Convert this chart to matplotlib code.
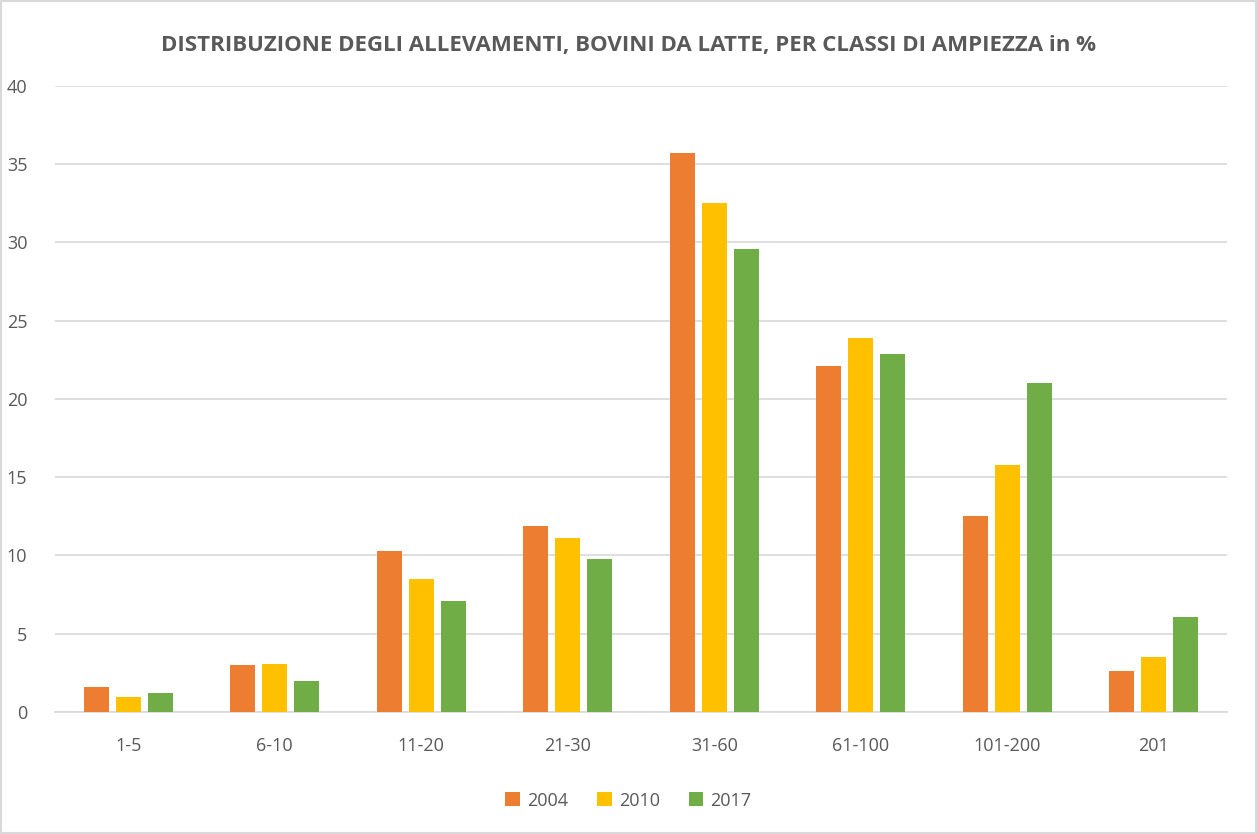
import matplotlib
matplotlib.use("Agg")
import matplotlib.pyplot as plt
import numpy as np
from matplotlib.patches import Rectangle

# classi di ampiezza e quote (%) per anno
classi = ["1-5", "6-10", "11-20", "21-30", "31-60", "61-100", "101-200", "201"]
anni = ["2004", "2010", "2017"]
v2004 = [1.6, 3.0, 10.3, 11.9, 35.7, 22.1, 12.5, 2.6]
v2010 = [0.95, 3.05, 8.5, 11.1, 32.5, 23.9, 15.8, 3.5]
v2017 = [1.2, 2.0, 7.1, 9.75, 29.6, 22.9, 21.0, 6.1]
colori = ["#ED7D31", "#FFC000", "#70AD47"]

plt.rcParams['font.family'] = ['Open Sans', 'DejaVu Sans']

fig = plt.figure(figsize=(12.57, 8.34), dpi=100)
ax = fig.add_axes([0.0438, 0.1463, 0.9324, 0.7506])

x = np.arange(len(classi))
w = 0.17
passo = 0.219
for i, (serie, col, anno) in enumerate(zip([v2004, v2010, v2017], colori, anni)):
    ax.bar(x + (i - 1) * passo, serie, width=w, color=col, label=anno, zorder=3)

ax.set_xlim(-0.5, len(classi) - 0.5)
ax.set_ylim(0, 40)
ax.set_yticks(range(0, 41, 5))
ax.set_xticks(x)
ax.set_xticklabels(classi)
ax.grid(axis='y', color='#D9D9D9', linewidth=1.2, zorder=0)
for s in ['top', 'right', 'left']:
    ax.spines[s].set_visible(False)
ax.spines['bottom'].set_color('#D9D9D9')
ax.spines['bottom'].set_linewidth(1.2)
ax.tick_params(axis='both', length=0, labelsize=13, labelcolor='#595959')
ax.tick_params(axis='y', pad=20)
ax.tick_params(axis='x', pad=18)

fig.text(0.5, 0.946, "DISTRIBUZIONE DEGLI ALLEVAMENTI, BOVINI DA LATTE, PER CLASSI DI AMPIEZZA in %",
         ha='center', va='center', fontsize=16, fontweight='bold', color='#595959')

fig.legend(loc='center', bbox_to_anchor=(0.5, 0.04), ncol=3, frameon=False,
           fontsize=13, labelcolor='#595959', handlelength=0.8, handleheight=0.8,
           handletextpad=0.4, columnspacing=1.6)

# cornice dell'area del grafico
fig.patches.append(Rectangle((0.001, 0.001), 0.998, 0.998, transform=fig.transFigure,
                             fill=False, edgecolor='#D9D9D9', linewidth=1.5))

fig.savefig('out.png', dpi=100)
